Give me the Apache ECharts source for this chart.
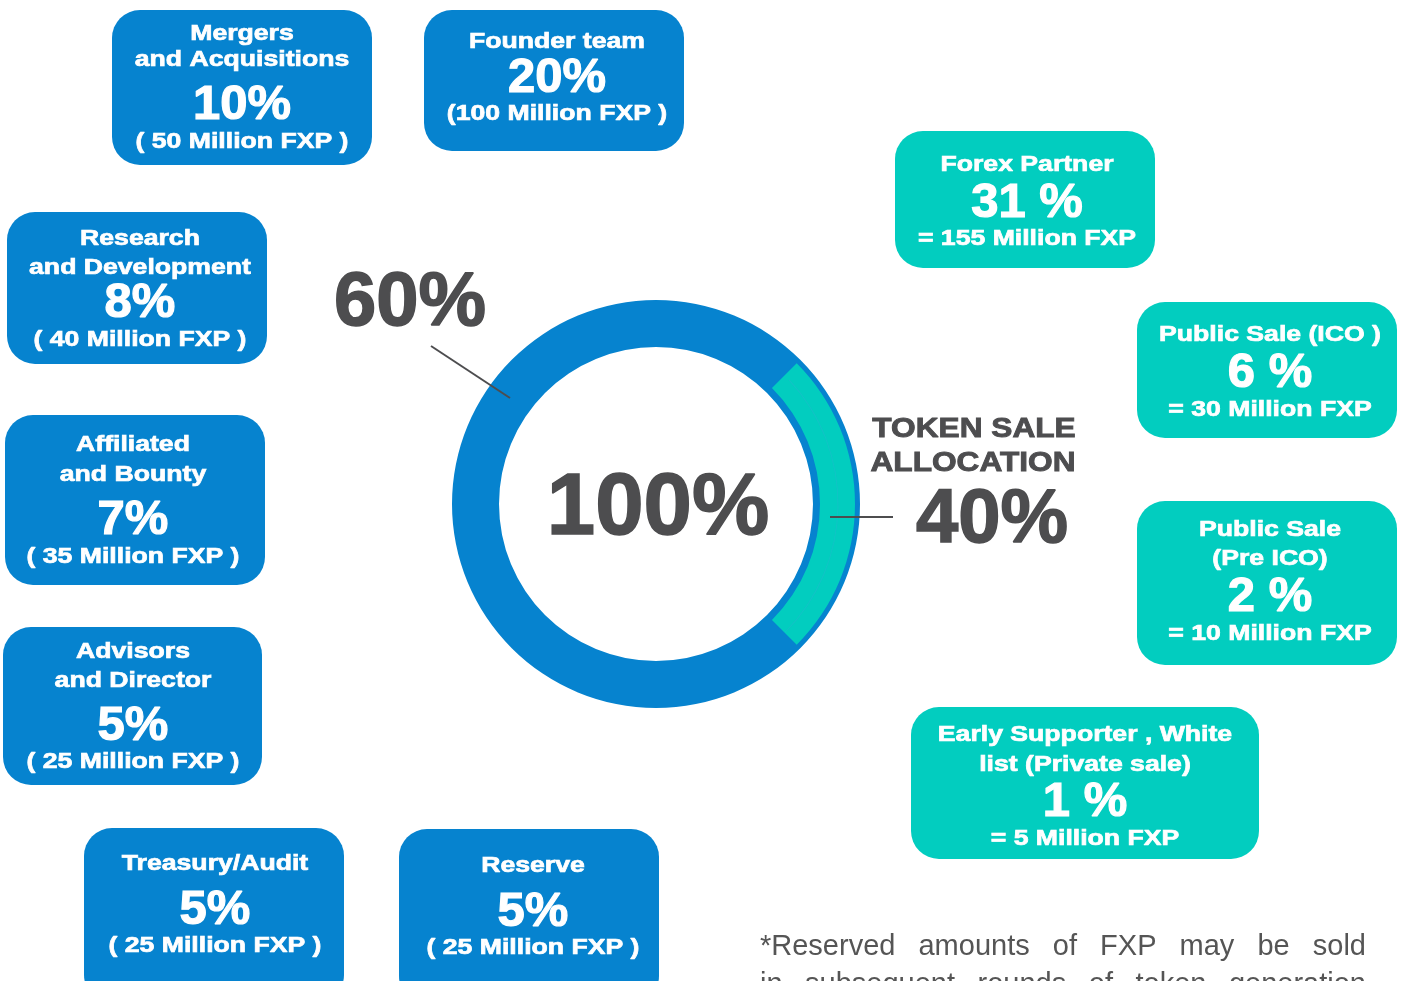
<!DOCTYPE html>
<html>
<head>
<meta charset="utf-8">
<script src="https://cdn.jsdelivr.net/npm/echarts@6/dist/echarts.min.js"></script>
<style>
html,body{margin:0;padding:0;background:#fff;}
#chart{width:1405px;height:981px;}
</style>
</head>
<body>
<div id="chart"></div>
<script>
// ---------- data ----------
const ringShares = [60, 40];            // 60% reserved, 40% token sale
const ringTotal = '100%';
const ringArcVisible = [25, 75];         // visible teal arc portion of the circle as drawn
const boxNames = [
  ['Mergers', 'and Acquisitions'],
  ['Founder team'],
  ['Research', 'and Development'],
  ['Affiliated', 'and Bounty'],
  ['Advisors', 'and Director'],
  ['Treasury/Audit'],
  ['Reserve'],
  ['Forex Partner'],
  ['Public Sale (ICO )'],
  ['Public Sale', '(Pre ICO)'],
  ['Early Supporter , White', 'list (Private sale)']
];
const boxPercents = [10, 20, 8, 7, 5, 5, 5, 31, 6, 2, 1];
const boxMillions = [50, 100, 40, 35, 25, 25, 25, 155, 30, 10, 5];
const boxGroups = ['reserved','reserved','reserved','reserved','reserved','reserved','reserved','sale','sale','sale','sale'];
const saleTitle = ['TOKEN SALE', 'ALLOCATION'];
const footnoteLines = ['*Reserved amounts of FXP may be sold', 'in subsequent rounds of token generation'];

// ---------- layout / style ----------
const BLUE = '#0683cf', TEAL = '#02cdbf', DARK = '#4d4d4f';
const CX = 656, CY = 504;
const boxLayout = [
  {x:112, y:10,  w:260, h:155, cx:242,  ly:[32,58,103,140]},
  {x:424, y:10,  w:260, h:141, cx:557,  ly:[40,76,112]},
  {x:7,   y:212, w:260, h:152, cx:140,  ly:[237,266,301,338]},
  {x:5,   y:415, w:260, h:170, cx:133,  ly:[443,473,518,555]},
  {x:3,   y:627, w:259, h:158, cx:133,  ly:[650,679,724,760]},
  {x:84,  y:828, w:260, h:175, cx:215,  ly:[862,908,944]},
  {x:399, y:829, w:260, h:175, cx:533,  ly:[864,910,946]},
  {x:895, y:131, w:260, h:137, cx:1027, ly:[163,201,237]},
  {x:1137,y:302, w:260, h:136, cx:1270, ly:[333,371,408]},
  {x:1137,y:501, w:260, h:164, cx:1270, ly:[528,557,595,632]},
  {x:911, y:707, w:348, h:152, cx:1085, ly:[733,763,800,837]}
];
const NAME_FONT = 'bold 22px "Liberation Sans"';
const NAME_SCALE = 1.21;
const PCT_FONT = 'bold 48px "Liberation Sans"';
const DY_NAME = 2, DY_PCT = 3;

const graphics = [];
boxNames.forEach((names, i) => {
  const L = boxLayout[i];
  const sale = boxGroups[i] === 'sale';
  graphics.push({
    type: 'rect', z: 10, shape: {x: L.x, y: L.y, width: L.w, height: L.h, r: 28},
    style: {fill: sale ? TEAL : BLUE}, silent: true
  });
  const pct = sale ? boxPercents[i] + ' %' : boxPercents[i] + '%';
  let amt;
  if (sale) amt = '= ' + boxMillions[i] + ' Million FXP';
  else if (boxMillions[i] >= 100) amt = '(' + boxMillions[i] + ' Million FXP )';
  else amt = '( ' + boxMillions[i] + ' Million FXP )';
  const lines = names.map(n => ({t: n, f: NAME_FONT, s: NAME_SCALE, lw: 0.7, dy: DY_NAME}))
    .concat([{t: pct, f: PCT_FONT, s: 1.02, lw: 1.2, dy: DY_PCT}, {t: amt, f: NAME_FONT, s: NAME_SCALE, lw: 0.7, dy: DY_NAME}]);
  lines.forEach((ln, k) => {
    graphics.push({
      type: 'text', z: 11, x: L.cx, y: L.ly[k] + ln.dy, scaleX: ln.s, silent: true,
      style: {text: ln.t, font: ln.f, fill: '#ffffff', stroke: '#ffffff', lineWidth: ln.lw,
              align: 'center', verticalAlign: 'middle'}
    });
  });
});

// big labels
function bigText(x, y, text, font, scale, lw) {
  graphics.push({type:'text', z: 20, x: x, y: y, scaleX: scale, silent: true,
    style:{text: text, font: font, fill: DARK, stroke: DARK, lineWidth: lw, align:'center', verticalAlign:'middle'}});
}
bigText(CX + 2, 510, ringTotal, 'bold 87px "Liberation Sans"', 1, 1.5);
bigText(410, 304, ringShares[0] + '%', 'bold 76px "Liberation Sans"', 1, 1.5);
bigText(992, 521, ringShares[1] + '%', 'bold 76px "Liberation Sans"', 1, 1.5);
bigText(974, 429, saleTitle[0], 'bold 28px "Liberation Sans"', 1.13, 0.9);
bigText(973, 463, saleTitle[1], 'bold 28px "Liberation Sans"', 1.13, 0.9);
// pointer lines
graphics.push({type:'line', z: 30, silent:true, shape:{x1:431, y1:346, x2:510, y2:398}, style:{stroke: DARK, lineWidth: 2}});
graphics.push({type:'line', z: 30, silent:true, shape:{x1:830, y1:517, x2:893, y2:517}, style:{stroke: DARK, lineWidth: 2}});

// justified footnote
const FOOT_FONT = '29px "Liberation Sans"';
const mc = document.createElement('canvas').getContext('2d');
mc.font = FOOT_FONT;
const FX0 = 760, FX1 = 1366, footY = [947, 985];
footnoteLines.forEach((line, li) => {
  const words = line.split(' ');
  const widths = words.map(w => mc.measureText(w).width);
  const sum = widths.reduce((a, b) => a + b, 0);
  const gap = (FX1 - FX0 - sum) / (words.length - 1);
  let x = FX0;
  words.forEach((w, k) => {
    graphics.push({type:'text', z: 20, x: x, y: footY[li], silent:true,
      style:{text: w, font: FOOT_FONT, fill: '#555555', align:'left', verticalAlign:'middle'}});
    x += widths[k] + gap;
  });
});

const chart = echarts.init(document.getElementById('chart'), null, {renderer: 'canvas'});
chart.setOption({
  animation: false,
  backgroundColor: '#ffffff',
  series: [
    {
      type: 'pie', center: [CX, CY], radius: [157, 204], silent: true,
      label: {show: false}, labelLine: {show: false},
      data: [{name: 'Total', value: ringShares[0] + ringShares[1], itemStyle: {color: BLUE}}]
    },
    {
      type: 'pie', center: [CX, CY], radius: [164, 199], silent: true,
      startAngle: 45, clockwise: true,
      label: {show: false}, labelLine: {show: false},
      data: [
        {name: 'Token sale', value: ringArcVisible[0], itemStyle: {color: TEAL}},
        {name: 'rest', value: ringArcVisible[1], itemStyle: {color: 'rgba(0,0,0,0)'}}
      ]
    },
    {
      type: 'pie', center: [CX, CY], radius: [181.6, 182.4], silent: true,
      startAngle: 43, clockwise: true,
      label: {show: false}, labelLine: {show: false},
      data: [
        {name: 'arc line', value: ringArcVisible[0] - 0.6, itemStyle: {color: '#14c2c6'}},
        {name: 'rest', value: ringArcVisible[1] + 0.6, itemStyle: {color: 'rgba(0,0,0,0)'}}
      ]
    }
  ],
  graphic: graphics
});
</script>
</body>
</html>
